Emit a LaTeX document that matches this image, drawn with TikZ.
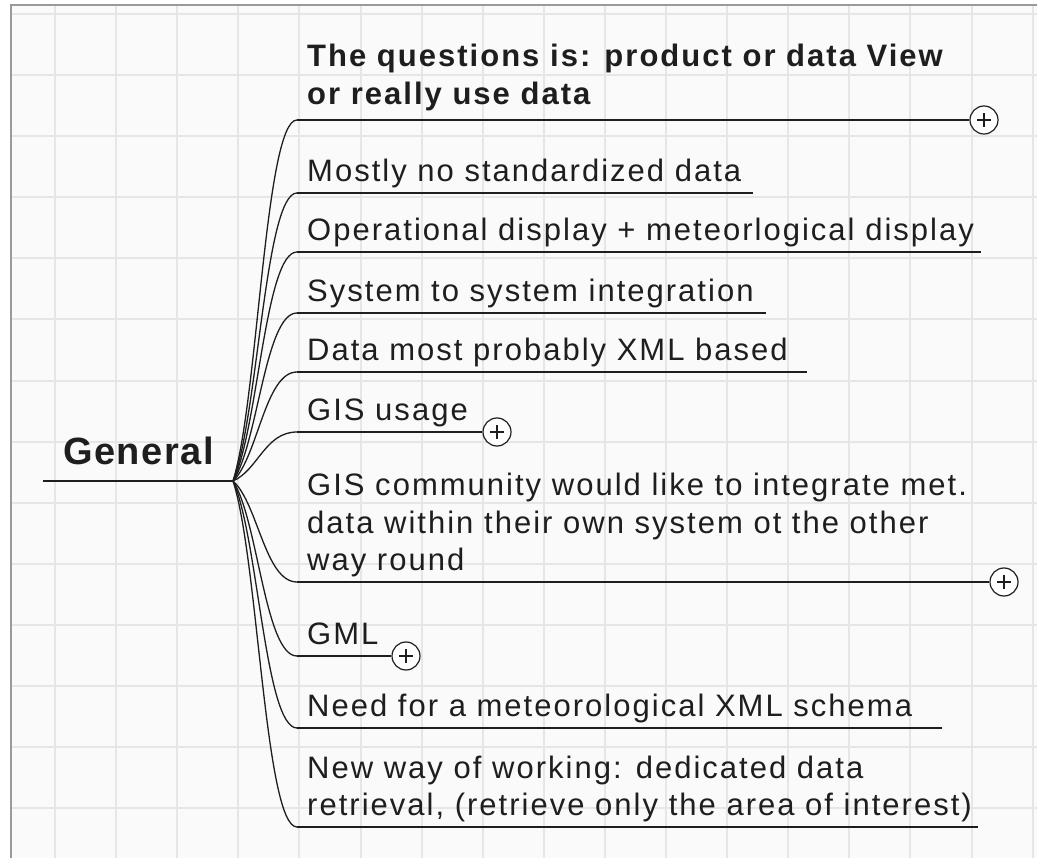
\documentclass[tikz,border=0pt]{standalone}
\usepackage{fontspec}
\setmainfont{Liberation Sans}
\newfontfamily\branchfont[LetterSpace=6.5]{Liberation Sans}
\newfontfamily\rootfont[LetterSpace=4]{Liberation Sans}
\usetikzlibrary{positioning}

\definecolor{paper}{HTML}{FAFAFA}
\definecolor{gridline}{HTML}{E6E6E6}
\definecolor{frame}{HTML}{9A9A9A}
\definecolor{ink}{HTML}{1E1E1E}

\tikzset{
	topic/.style={anchor=south west, inner xsep=10pt, inner ysep=0pt, align=left, text=ink,
		font=\branchfont\fontsize{31}{37.5}\selectfont, execute at end node=\strut},
	roottopic/.style={anchor=south west, inner xsep=20pt, inner ysep=2.8pt, text=ink,
		font=\rootfont\bfseries\fontsize{38}{44}\selectfont, execute at end node=\strut},
	link/.style={draw=ink, line width=1.3pt},
	more/.style={circle, draw=ink, fill=white, line width=1.2pt, minimum size=28pt, inner sep=0pt,
		path picture={\draw[ink, line width=1.2pt]
			([xshift=-7pt]path picture bounding box.center) -- ([xshift=7pt]path picture bounding box.center)
			([yshift=-7pt]path picture bounding box.center) -- ([yshift=7pt]path picture bounding box.center);}}
}

\begin{document}
\begin{tikzpicture}[x=1pt, y=-1pt]
		\useasboundingbox (0,0) rectangle (1037,858);
		
		% Paper and grid
		\fill[paper] (11,5) rectangle (1037,858);
		\foreach \gx in {0,...,16}
			\draw[gridline, line width=2pt] ({55+61.1*\gx},5) -- ({55+61.1*\gx},858);
		\foreach \gy in {0,...,13}
			\draw[gridline, line width=2pt] (11,{14+61.1*\gy}) -- (1037,{14+61.1*\gy});
		\draw[frame, line width=1.5pt] (11,858) -- (11,5) -- (1037,5);
		
		% Central topic
		\node[roottopic] (general) at (43,481) {General};
		\coordinate (hub) at (233,481);
		\draw[link] (general.south west) -- (hub);
		
		% Subtopics
		\node[topic, inner ysep=4.5pt] (b1) at (297,120) {\bfseries The questions is: product or data View\\\bfseries or really use data};
		\node[topic] (b2) at (297,193) {Mostly no standardized data};
		\node[topic] (b3) at (297,252) {Operational display + meteorlogical display};
		\node[topic] (b4) at (297,313) {System to system integration};
		\node[topic] (b5) at (297,372) {Data most probably XML based};
		\node[topic] (b6) at (297,432) {GIS usage};
		\node[topic] (b7) at (297,582) {GIS community would like to integrate met.\\data within their own system ot the other\\way round};
		\node[topic] (b8) at (297,656) {GML};
		\node[topic] (b9) at (297,728) {Need for a meteorological XML schema};
		\node[topic] (b10) at (297,827) {New way of working: dedicated data\\retrieval, (retrieve only the area of interest)};
		
		% Collapsed markers and line ends
		\node[more] (p1) at (984,120) {};
		\node[more] (p6) at (497,432) {};
		\node[more] (p7) at (1004,582) {};
		\node[more] (p8) at (406,656) {};
		\coordinate (e2) at (753,193);
		\coordinate (e3) at (981,252);
		\coordinate (e4) at (766,313);
		\coordinate (e5) at (807,372);
		\coordinate (e9) at (942,728);
		\coordinate (e10) at (978,827);
		
		% Branches
		\foreach \n/\y in {1/120,2/193,3/252,4/313,5/372,6/432,7/582,8/656,9/728,10/827}
			\draw[link] (hub) .. controls (258,{481+0.22*(\y-481)}) and (265,\y) .. (b\n.south west);
		
		% Underlines
		\draw[link] (b1.south west) -- (p1);
		\draw[link] (b2.south west) -- (e2);
		\draw[link] (b3.south west) -- (e3);
		\draw[link] (b4.south west) -- (e4);
		\draw[link] (b5.south west) -- (e5);
		\draw[link] (b6.south west) -- (p6);
		\draw[link] (b7.south west) -- (p7);
		\draw[link] (b8.south west) -- (p8);
		\draw[link] (b9.south west) -- (e9);
		\draw[link] (b10.south west) -- (e10);
	\end{tikzpicture}
\end{document}
